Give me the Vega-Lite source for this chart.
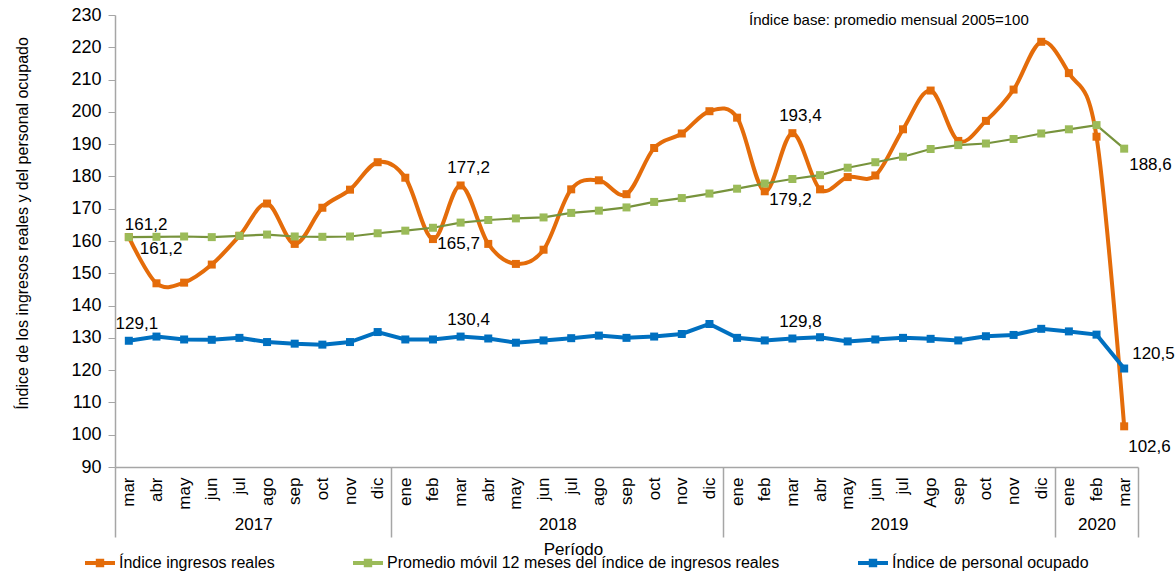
{
  "$schema": "https://vega.github.io/schema/vega-lite/v6.json",
  "autosize": "none",
  "width": 1023,
  "height": 452,
  "padding": {"left": 115, "top": 15, "right": 38, "bottom": 106},
  "title": {"text": "Índice base: promedio mensual 2005=100", "anchor": "start", "frame": "group", "dx": 634, "dy": 24, "offset": -5, "baseline": "middle", "fontSize": 15, "fontWeight": "normal", "font": "Liberation Sans", "color": "#000000"},
  "data": {"values": [
    {"i": 0, "ing": 161.2, "prom": 161.2, "per": 129.1},
    {"i": 1, "ing": 146.9, "prom": 161.3, "per": 130.4},
    {"i": 2, "ing": 147.1, "prom": 161.4, "per": 129.5},
    {"i": 3, "ing": 152.7, "prom": 161.2, "per": 129.4},
    {"i": 4, "ing": 161.6, "prom": 161.6, "per": 130.0},
    {"i": 5, "ing": 171.6, "prom": 162.0, "per": 128.7},
    {"i": 6, "ing": 159.1, "prom": 161.4, "per": 128.2},
    {"i": 7, "ing": 170.3, "prom": 161.3, "per": 127.9},
    {"i": 8, "ing": 175.9, "prom": 161.4, "per": 128.7},
    {"i": 9, "ing": 184.4, "prom": 162.4, "per": 131.8},
    {"i": 10, "ing": 179.6, "prom": 163.2, "per": 129.5},
    {"i": 11, "ing": 160.6, "prom": 164.1, "per": 129.5},
    {"i": 12, "ing": 177.2, "prom": 165.7, "per": 130.4},
    {"i": 13, "ing": 159.1, "prom": 166.5, "per": 129.8},
    {"i": 14, "ing": 152.9, "prom": 167.0, "per": 128.5},
    {"i": 15, "ing": 157.3, "prom": 167.3, "per": 129.2},
    {"i": 16, "ing": 176.0, "prom": 168.7, "per": 129.9},
    {"i": 17, "ing": 178.8, "prom": 169.4, "per": 130.7},
    {"i": 18, "ing": 174.5, "prom": 170.4, "per": 130.0},
    {"i": 19, "ing": 188.8, "prom": 172.1, "per": 130.4},
    {"i": 20, "ing": 193.3, "prom": 173.3, "per": 131.2},
    {"i": 21, "ing": 200.2, "prom": 174.7, "per": 134.3},
    {"i": 22, "ing": 198.2, "prom": 176.2, "per": 130.0},
    {"i": 23, "ing": 175.4, "prom": 177.8, "per": 129.2},
    {"i": 24, "ing": 193.4, "prom": 179.2, "per": 129.8},
    {"i": 25, "ing": 176.0, "prom": 180.4, "per": 130.2},
    {"i": 26, "ing": 179.8, "prom": 182.7, "per": 128.9},
    {"i": 27, "ing": 180.3, "prom": 184.4, "per": 129.5},
    {"i": 28, "ing": 194.6, "prom": 186.1, "per": 130.0},
    {"i": 29, "ing": 206.6, "prom": 188.5, "per": 129.7},
    {"i": 30, "ing": 191.0, "prom": 189.7, "per": 129.2},
    {"i": 31, "ing": 197.2, "prom": 190.2, "per": 130.5},
    {"i": 32, "ing": 206.9, "prom": 191.6, "per": 130.9},
    {"i": 33, "ing": 221.7, "prom": 193.3, "per": 132.8},
    {"i": 34, "ing": 212.0, "prom": 194.6, "per": 132.0},
    {"i": 35, "ing": 192.3, "prom": 195.9, "per": 131.0},
    {"i": 36, "ing": 102.6, "prom": 188.6, "per": 120.5}
  ]},
  "transform": [{"fold": ["ing", "prom", "per"], "as": ["s", "v"]}],
  "resolve": {"axis": {"x": "independent", "y": "independent"}},
  "layer": [
    {
      "transform": [{"filter": "datum.s == 'ing'"}],
      "mark": {"type": "line", "interpolate": "cardinal", "color": "#E46C0A", "strokeWidth": 4},
      "encoding": {
        "x": {"field": "i", "type": "quantitative", "scale": {"domain": [-0.5, 36.5], "nice": false, "zero": false},
          "axis": {"orient": "bottom", "values": [0,1,2,3,4,5,6,7,8,9,10,11,12,13,14,15,16,17,18,19,20,21,22,23,24,25,26,27,28,29,30,31,32,33,34,35,36],
            "labelExpr": "['mar','abr','may','jun','jul','ago','sep','oct','nov','dic','ene','feb','mar','abr','may','jun','jul','ago','sep','oct','nov','dic','ene','feb','mar','abr','may','jun','jul','Ago','sep','oct','nov','dic','ene','feb','mar'][datum.value]",
            "labelAngle": 270, "labelAlign": "right", "labelBaseline": "middle", "ticks": false, "tickSize": 0, "labelPadding": 10,
            "labelFlush": false, "labelOverlap": false, "labelFontSize": 17, "grid": false,
            "domainColor": "#A6A6A6", "domainWidth": 1.5,
            "title": "Período", "titleX": 458, "titleY": 82, "titleBaseline": "middle", "titleFontSize": 17, "titleFontWeight": "normal"}},
        "y": {"field": "v", "type": "quantitative", "scale": {"domain": [90, 230], "nice": false, "zero": false},
          "axis": {"orient": "left", "values": [90,100,110,120,130,140,150,160,170,180,190,200,210,220,230], "tickSize": 7, "tickColor": "#A6A6A6", "domainColor": "#A6A6A6", "domainWidth": 1.5,
            "labelPadding": 7, "labelFontSize": 18, "grid": false,
            "title": "Índice de los ingresos reales y del personal ocupado", "titlePadding": 40, "titleY": 208, "titleFontSize": 16, "titleFontWeight": "normal"}}
      }
    },
    {
      "transform": [{"filter": "datum.s == 'prom'"}],
      "mark": {"type": "line", "color": "#77933C", "strokeWidth": 2.2},
      "encoding": {
        "x": {"field": "i", "type": "quantitative", "axis": null},
        "y": {"field": "v", "type": "quantitative", "axis": null}
      }
    },
    {
      "transform": [{"filter": "datum.s == 'per'"}],
      "mark": {"type": "line", "color": "#0070C0", "strokeWidth": 4},
      "encoding": {
        "x": {"field": "i", "type": "quantitative", "axis": null},
        "y": {"field": "v", "type": "quantitative", "axis": null}
      }
    },
    {
      "mark": {"type": "point", "shape": "square", "filled": true, "size": 64, "opacity": 1},
      "encoding": {
        "x": {"field": "i", "type": "quantitative",
          "axis": {"orient": "bottom", "values": [4.5, 15.5, 27.5, 35], "labelExpr": "datum.value < 10 ? '2017' : datum.value < 20 ? '2018' : datum.value < 30 ? '2019' : '2020'",
            "domain": false, "ticks": false, "tickSize": 0, "labelPadding": 0, "offset": 57, "labelAngle": 0, "labelAlign": "center", "labelBaseline": "middle",
            "labelFontSize": 17, "labelFlush": false, "labelOverlap": false, "grid": false, "title": null}},
        "y": {"field": "v", "type": "quantitative", "axis": null},
        "color": {"field": "s", "type": "nominal",
          "scale": {"domain": ["ing", "prom", "per"], "range": ["#E46C0A", "#9BBB59", "#0070C0"]},
          "legend": {"orient": "none", "legendX": -30, "legendY": 533, "direction": "horizontal", "columns": 3, "title": null,
            "symbolType": "M-1,-0.14L1,-0.14L1,0.14L-1,0.14Z M-0.28,-0.28L0.28,-0.28L0.28,0.28L-0.28,0.28Z",
            "symbolSize": 900, "symbolStrokeWidth": 0, "symbolOpacity": 1, "labelOffset": 4,
            "labelFontSize": 16, "labelColor": "#000000", "labelLimit": 0, "columnPadding": 78, "gridAlign": "none",
            "labelExpr": "datum.value == 'ing' ? 'Índice ingresos reales' : datum.value == 'prom' ? 'Promedio móvil 12 meses del índice de ingresos reales' : 'Índice de personal ocupado'"}}
      }
    },
    {
      "transform": [{"filter": "(datum.s == 'ing' && (datum.i == 12 || datum.i == 24)) || (datum.s == 'per' && (datum.i == 0 || datum.i == 12 || datum.i == 24))"},
        {"calculate": "replace(format(datum.v, '.1f'), '.', ',')", "as": "lab"}],
      "mark": {"type": "text", "align": "center", "baseline": "middle", "dx": 8, "dy": -17, "fontSize": 17, "color": "#000000"},
      "encoding": {
        "x": {"field": "i", "type": "quantitative",
          "axis": {"orient": "bottom", "values": [-0.5, 9.5, 21.5, 33.5, 36.5], "labels": false, "domain": false, "ticks": true, "tickSize": 70, "tickColor": "#A6A6A6", "tickWidth": 1.5, "grid": false, "title": null}},
        "y": {"field": "v", "type": "quantitative", "axis": null},
        "text": {"field": "lab"}
      }
    },
    {
      "transform": [{"filter": "datum.s == 'prom' && (datum.i == 12 || datum.i == 24)"},
        {"calculate": "replace(format(datum.v, '.1f'), '.', ',')", "as": "lab"}],
      "mark": {"type": "text", "align": "center", "baseline": "middle", "dx": -2, "dy": 21, "fontSize": 17, "color": "#000000"},
      "encoding": {
        "x": {"field": "i", "type": "quantitative", "axis": null},
        "y": {"field": "v", "type": "quantitative", "axis": null},
        "text": {"field": "lab"}
      }
    },
    {
      "transform": [{"filter": "datum.s == 'prom' && datum.i == 0"},
        {"calculate": "replace(format(datum.v, '.1f'), '.', ',')", "as": "lab"}],
      "mark": {"type": "text", "align": "left", "baseline": "middle", "dx": -4, "dy": -12, "fontSize": 17, "color": "#000000"},
      "encoding": {
        "x": {"field": "i", "type": "quantitative", "axis": null},
        "y": {"field": "v", "type": "quantitative", "axis": null},
        "text": {"field": "lab"}
      }
    },
    {
      "transform": [{"filter": "datum.s == 'ing' && datum.i == 0"},
        {"calculate": "replace(format(datum.v, '.1f'), '.', ',')", "as": "lab"}],
      "mark": {"type": "text", "align": "left", "baseline": "middle", "dx": 11, "dy": 12, "fontSize": 17, "color": "#000000"},
      "encoding": {
        "x": {"field": "i", "type": "quantitative", "axis": null},
        "y": {"field": "v", "type": "quantitative", "axis": null},
        "text": {"field": "lab"}
      }
    },
    {
      "transform": [{"filter": "datum.s == 'prom' && datum.i == 36"},
        {"calculate": "replace(format(datum.v, '.1f'), '.', ',')", "as": "lab"}],
      "mark": {"type": "text", "align": "left", "baseline": "middle", "dx": 5, "dy": 16, "fontSize": 17, "color": "#000000"},
      "encoding": {
        "x": {"field": "i", "type": "quantitative", "axis": null},
        "y": {"field": "v", "type": "quantitative", "axis": null},
        "text": {"field": "lab"}
      }
    },
    {
      "transform": [{"filter": "datum.s == 'ing' && datum.i == 36"},
        {"calculate": "replace(format(datum.v, '.1f'), '.', ',')", "as": "lab"}],
      "mark": {"type": "text", "align": "left", "baseline": "middle", "dx": 4, "dy": 21, "fontSize": 17, "color": "#000000"},
      "encoding": {
        "x": {"field": "i", "type": "quantitative", "axis": null},
        "y": {"field": "v", "type": "quantitative", "axis": null},
        "text": {"field": "lab"}
      }
    },
    {
      "transform": [{"filter": "datum.s == 'per' && datum.i == 36"},
        {"calculate": "replace(format(datum.v, '.1f'), '.', ',')", "as": "lab"}],
      "mark": {"type": "text", "align": "left", "baseline": "middle", "dx": 8, "dy": -15, "fontSize": 17, "color": "#000000"},
      "encoding": {
        "x": {"field": "i", "type": "quantitative", "axis": null},
        "y": {"field": "v", "type": "quantitative", "axis": null},
        "text": {"field": "lab"}
      }
    }
  ],
  "config": {
    "font": "Liberation Sans",
    "view": {"stroke": null},
    "axis": {"labelColor": "#000000", "titleColor": "#000000", "labelFont": "Liberation Sans", "titleFont": "Liberation Sans"},
    "legend": {"labelFont": "Liberation Sans"},
    "text": {"font": "Liberation Sans"}
  }
}
